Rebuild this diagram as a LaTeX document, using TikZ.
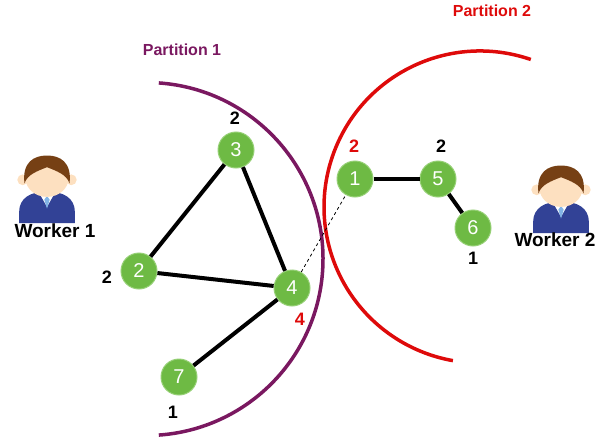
\documentclass[tikz,border=0pt]{standalone}
\usepackage{fontspec}
\setmainfont{Liberation Sans}
\usepackage{tikz}

\definecolor{nodegreen}{RGB}{110,186,68}
\definecolor{nodeborder}{RGB}{150,208,118}
\definecolor{partpurple}{RGB}{122,24,96}
\definecolor{partred}{RGB}{222,10,10}
\definecolor{suitblue}{RGB}{50,66,150}
\definecolor{tieblue}{RGB}{130,180,230}
\definecolor{skin}{RGB}{253,224,192}
\definecolor{hairbrown}{RGB}{118,64,20}

\tikzset{
  vertex/.style={circle,fill=nodegreen,draw=nodeborder,line width=1pt,
    minimum size=36pt,inner sep=0pt,text=white,font=\fontsize{20}{20}\selectfont},
  deg/.style={inner sep=0pt,font=\bfseries\fontsize{18}{18}\selectfont},
  degcut/.style={deg,text=partred},
  edge/.style={line width=4pt},
  cut/.style={line width=0.8pt,dashed},
  partname/.style={inner sep=0pt,font=\bfseries\fontsize{16}{16}\selectfont},
  workername/.style={inner sep=0pt,font=\bfseries\fontsize{19}{19}\selectfont},
  workerpic/.pic={
    \fill[suitblue] (-31,50) -- (-31,38) .. controls (-31,22) and (-18,15) .. (0,15)
      .. controls (18,15) and (31,22) .. (31,38) -- (31,50) -- cycle;
    \fill[white] (-9,16) -- (0,32) -- (9,16) -- cycle;
    \fill[tieblue] (0,20) -- (-3,24) -- (0,34) -- (3,24) -- cycle;
    \fill[skin] (-27,2) circle[radius=6] (27,2) circle[radius=6];
    \fill[skin] (0,0) ellipse[x radius=24,y radius=21];
    \fill[hairbrown] (-25,6) .. controls (-28,-18) and (-14,-25) .. (0,-25)
      .. controls (14,-25) and (28,-18) .. (25,6)
      .. controls (22,-4) and (10,-8) .. (0,-12)
      .. controls (-10,-8) and (-22,-4) .. (-25,6) -- cycle;
  }
}

\begin{document}
\begin{tikzpicture}[x=1pt,y=-1pt]
\useasboundingbox (0,0) rectangle (599,441);

% partitions
\coordinate (c1) at (146.5,259);
\coordinate (c2) at (480,207);
\draw[partpurple,line width=3.5pt] ([shift={(86:176.5pt)}]c1) arc[start angle=86,end angle=-86,radius=176.5pt];
\draw[partred,line width=3.5pt] ([shift={(71:156pt)}]c2) arc[start angle=71,end angle=260,radius=156pt];
\node[partname,text=partpurple] (p1) at (182,50) {Partition 1};
\node[partname,text=partred] (p2) at (492,11) {Partition 2};

% vertices
\node[vertex] (n3) at (236,150) {3};
\node[vertex] (n2) at (139,271) {2};
\node[vertex] (n4) at (292,288) {4};
\node[vertex] (n7) at (179,377) {7};
\node[vertex] (n1) at (355,179) {1};
\node[vertex] (n5) at (438,179) {5};
\node[vertex] (n6) at (473,228) {6};

% edges
\draw[edge] (n3) -- (n2);
\draw[edge] (n3) -- (n4);
\draw[edge] (n2) -- (n4);
\draw[edge] (n4) -- (n7);
\draw[edge] (n1) -- (n5);
\draw[edge] (n5) -- (n6);
\draw[cut] (n4) -- (n1);

% degrees
\node[deg] (d3) at (235,118) {2};
\node[deg] (d2) at (107,277) {2};
\node[degcut] (d4) at (300,319) {4};
\node[deg] (d7) at (173,412) {1};
\node[degcut] (d1) at (354,146) {2};
\node[deg] (d5) at (441,146) {2};
\node[deg] (d6) at (473,258) {1};

% workers
\pic[scale=0.9] at (47,178) {workerpic};
\pic[scale=0.9] at (561,188) {workerpic};
\node[workername] (w1) at (55,231) {Worker 1};
\node[workername] (w2) at (555,240) {Worker 2};
\end{tikzpicture}
\end{document}
